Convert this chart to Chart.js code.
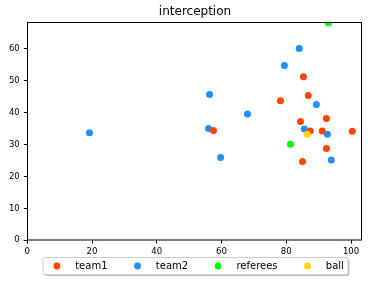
<!DOCTYPE html>
<html>
<head>
<meta charset="utf-8">
<script src="https://cdn.jsdelivr.net/npm/chart.js@4"></script>
<style>
html,body{margin:0;padding:0;background:#fff;}
#wrap{width:368px;height:281px;}
</style>
</head>
<body>
<div id="wrap"><canvas id="c" width="368" height="281"></canvas></div>
<script>
const chartTitle = "interception";
const seriesNames = ["team1", "team2", "referees", "ball"];
const seriesColors = ["#ff4500", "#1e90ff", "#00ff00", "#ffd700"];
const team1X = [85.3, 86.8, 78.2, 92.4, 84.4, 57.5, 87.4, 91.1, 100.4, 92.4, 85.0];
const team1Y = [51.1, 45.2, 43.6, 38.0, 37.1, 34.3, 34.1, 34.1, 34.0, 28.6, 24.6];
const team2X = [84.0, 79.4, 56.3, 89.3, 68.0, 56.0, 85.6, 92.7, 59.7, 93.9, 19.2];
const team2Y = [59.9, 54.6, 45.5, 42.4, 39.4, 34.9, 34.7, 33.1, 25.8, 25.0, 33.6];
const refX = [93.0, 81.3];
const refY = [67.9, 30.0];
const ballX = [86.5];
const ballY = [33.1];
const xTicks = [0, 20, 40, 60, 80, 100];
const yTicks = [0, 10, 20, 30, 40, 50, 60];
const xRange = [0, 103.6];
const yRange = [0, 68.1];

function pts(xs, ys) { return xs.map((x, i) => ({x: x, y: ys[i]})); }
const seriesData = [pts(team1X, team1Y), pts(team2X, team2Y), pts(refX, refY), pts(ballX, ballY)];
const drawOrder = [1, 2, 3, 0];

const framePlugin = {
  id: 'frame',
  afterDraw(chart) {
    const ctx = chart.ctx, a = chart.chartArea;
    ctx.save();
    ctx.strokeStyle = '#000';
    ctx.lineWidth = 1;
    ctx.strokeRect(Math.round(a.left) + 0.5, Math.round(a.top) + 0.5, Math.round(a.right - a.left) - 1, Math.round(a.bottom - a.top) - 0.5);
    ctx.restore();

    // legend
    ctx.save();
    ctx.font = '10px "DejaVu Sans"';
    const gap = 30, markerToText = 18.3, leftPad = 14.4;
    const boxW = 305, boxH = 17, boxTop = 257;
    const cx = (a.left + a.right) / 2;
    const boxLeft = cx - boxW / 2;
    function rr(x, y, w, h, r) {
      ctx.beginPath();
      ctx.moveTo(x + r, y);
      ctx.lineTo(x + w - r, y); ctx.arcTo(x + w, y, x + w, y + r, r);
      ctx.lineTo(x + w, y + h - r); ctx.arcTo(x + w, y + h, x + w - r, y + h, r);
      ctx.lineTo(x + r, y + h); ctx.arcTo(x, y + h, x, y + h - r, r);
      ctx.lineTo(x, y + r); ctx.arcTo(x, y, x + r, y, r);
      ctx.closePath();
    }
    rr(boxLeft + 2, boxTop + 2, boxW, boxH, 2);
    ctx.fillStyle = 'rgba(128,128,128,0.5)';
    ctx.fill();
    rr(boxLeft + 0.5, boxTop + 0.5, boxW, boxH, 2);
    ctx.fillStyle = '#fff';
    ctx.fill();
    ctx.strokeStyle = '#cccccc';
    ctx.lineWidth = 1;
    ctx.stroke();
    let mx = boxLeft + leftPad;
    const my = boxTop + boxH / 2 + 0.5;
    chart.data.datasets.forEach((ds) => {
      ctx.beginPath();
      ctx.arc(mx, my, 3.4, 0, Math.PI * 2);
      ctx.fillStyle = ds.backgroundColor;
      ctx.fill();
      ctx.fillStyle = '#000';
      ctx.textBaseline = 'middle';
      ctx.textAlign = 'left';
      const tx = mx + markerToText;
      ctx.fillText(ds.label, tx, my);
      mx = tx + ctx.measureText(ds.label).width + gap;
    });
    ctx.restore();
  }
};

const tickFont = {family: '"DejaVu Sans Condensed", "DejaVu Sans"', size: 9.5};

new Chart(document.getElementById('c'), {
  type: 'scatter',
  data: {
    datasets: seriesNames.map((n, i) => ({
      label: n,
      data: seriesData[i],
      backgroundColor: seriesColors[i],
      borderWidth: 0,
      pointRadius: 3.5,
      pointHoverRadius: 3.5,
      order: drawOrder[i]
    }))
  },
  options: {
    responsive: false,
    animation: false,
    events: [],
    layout: {padding: {left: 0, right: 5.3, top: 0, bottom: 25}},
    plugins: {
      legend: {display: false},
      tooltip: {enabled: false},
      title: {
        display: true,
        text: chartTitle,
        fullSize: false,
        color: '#000',
        font: {family: '"DejaVu Sans"', size: 12, weight: 'normal'},
        padding: {top: 5, bottom: 3}
      }
    },
    scales: {
      x: {
        type: 'linear',
        min: xRange[0], max: xRange[1],
        afterFit(s) { s.height = 16; },
        afterBuildTicks(s) { s.ticks = xTicks.map(v => ({value: v})); },
        grid: {drawOnChartArea: false, drawTicks: true, tickLength: 3.5, color: '#000', lineWidth: 1},
        border: {display: false},
        ticks: {color: '#000', font: tickFont, padding: 2, maxRotation: 0, autoSkip: false}
      },
      y: {
        type: 'linear',
        min: yRange[0], max: yRange[1],
        afterFit(s) { s.width = 27.3; },
        afterBuildTicks(s) { s.ticks = yTicks.map(v => ({value: v})); },
        grid: {drawOnChartArea: false, drawTicks: true, tickLength: 3.5, color: '#000', lineWidth: 1},
        border: {display: false},
        ticks: {color: '#000', font: tickFont, padding: 4, autoSkip: false}
      }
    }
  },
  plugins: [framePlugin]
});
</script>
</body>
</html>
